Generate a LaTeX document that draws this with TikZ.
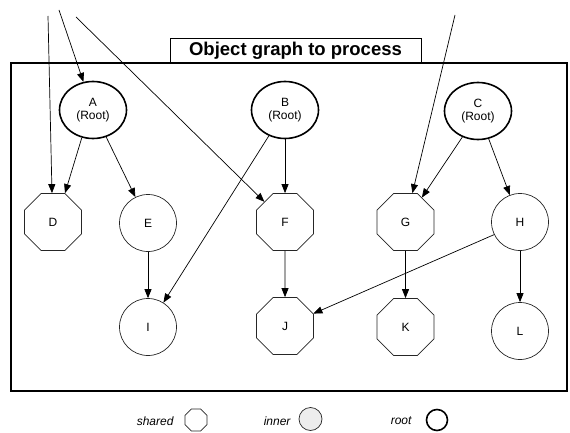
\documentclass[tikz,border=0pt]{standalone}
\usepackage{fontspec}
\setmainfont{Liberation Sans}
\usetikzlibrary{shapes.geometric,arrows.meta}
\begin{document}
\begin{tikzpicture}[x=1pt,y=-1pt,
  lbl/.style={font=\fontsize{12}{13.5}\selectfont},
  rootnode/.style={ellipse,draw=black,line width=1.6pt,minimum width=67pt,minimum height=57pt,inner sep=0pt,align=center,lbl},
  innernode/.style={circle,draw=black!85,line width=0.7pt,minimum size=57pt,inner sep=0pt,lbl},
  sharednode/.style={regular polygon,regular polygon sides=8,draw=black!85,line width=0.7pt,minimum size=61.7pt,inner sep=0pt,lbl},
  arr/.style={line width=0.7pt,-{Triangle[length=9pt,width=7pt]}},
  legtext/.style={font=\fontsize{12}{13}\selectfont\itshape,anchor=east}
]
\useasboundingbox (0,0) rectangle (570,433);
% outer frame and title
\draw[line width=1.8pt] (11,63) rectangle (567,391);
\node[draw,line width=0.9pt,minimum width=251pt,minimum height=24pt,inner sep=0pt,font=\fontsize{18.5}{20}\selectfont\bfseries] (title) at (295.5,50.5) {Object graph to process};
% nodes
\node[rootnode] (A) at (93,110) {A\\(Root)};
\node[rootnode] (B) at (285,110) {B\\(Root)};
\node[rootnode] (C) at (478,111) {C\\(Root)};
\node[sharednode] (D) at (53,222) {D};
\node[innernode] (E) at (148,223) {E};
\node[sharednode] (F) at (285,222) {F};
\node[sharednode] (G) at (405.5,222) {G};
\node[innernode] (H) at (520,222) {H};
\node[innernode] (I) at (148,327) {I};
\node[sharednode] (J) at (285,326) {J};
\node[sharednode] (K) at (405.5,327) {K};
\node[innernode] (L) at (520,331) {L};
% incoming references
\coordinate (s1) at (48,16);
\coordinate (s2) at (59,10);
\coordinate (s3) at (76,17);
\coordinate (s4) at (455,15);
\draw[arr] (s1) -- ([xshift=-1pt]D.north);
\draw[arr] (s2) -- (A);
\draw[arr] (s3) -- (F);
\draw[arr] (s4) -- (G);
% edges
\draw[arr] (A.248) -- ([xshift=12pt]D.north);
\draw[arr] (A.296) -- (E);
\draw[arr] (B) -- (F);
\draw[arr] (B.238) -- (I);
\draw[arr] (C.239) -- (G);
\draw[arr] (C.291) -- (H);
\draw[arr] (E) -- (I);
\draw[arr] (F) -- (J);
\draw[arr] (G) -- (K);
\draw[arr] (H) -- (L);
\draw[arr] (H.206) -- (J);
% legend
\node[legtext] (lt1) at (177,421) {shared};
\node[regular polygon,regular polygon sides=8,draw=black!85,line width=0.7pt,minimum size=24pt,inner sep=0pt] (lg1) at (196,420) {};
\node[legtext] (lt2) at (294,421) {inner};
\node[circle,draw=black!85,fill=black!7,line width=0.7pt,minimum size=23pt,inner sep=0pt] (lg2) at (310.5,419) {};
\node[legtext] (lt3) at (415,421) {root};
\node[circle,draw=black,line width=1.6pt,minimum size=21pt,inner sep=0pt] (lg3) at (437,420) {};
\end{tikzpicture}
\end{document}
